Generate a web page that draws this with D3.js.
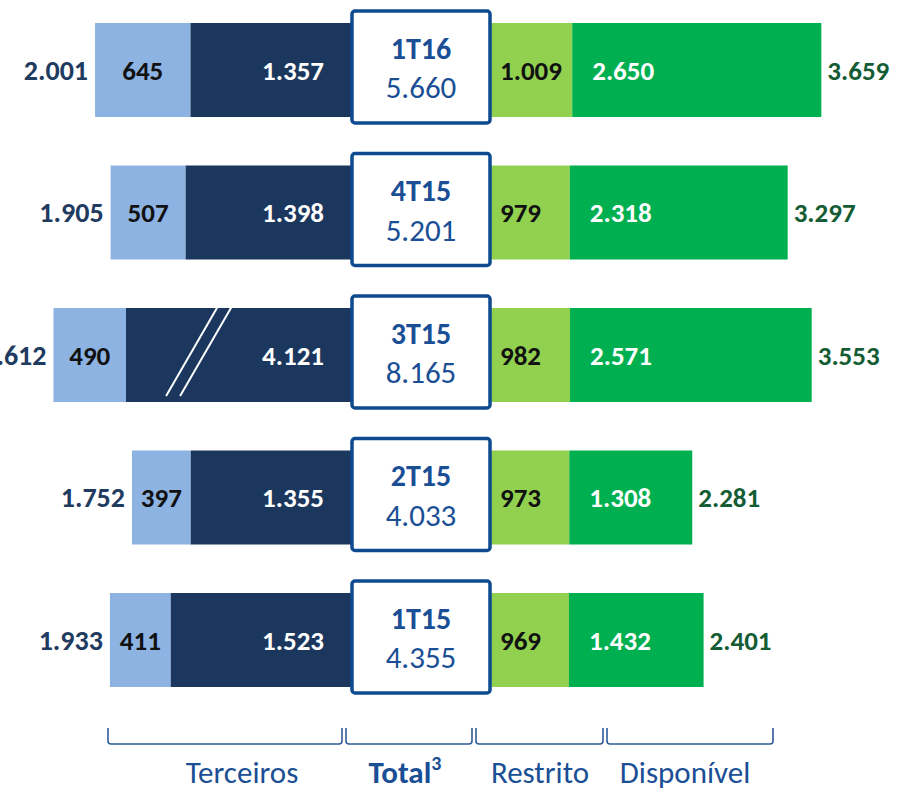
<!DOCTYPE html>
<html><head><meta charset="utf-8">
<script src="https://cdn.jsdelivr.net/npm/d3@7"></script>
<style>body{margin:0;background:#fff}svg{display:block}</style>
</head><body>
<svg id="c" width="897" height="789"></svg>
<script>
// ---- data ----
const quarters   = ["1T16","4T15","3T15","2T15","1T15"];
const totals     = ["5.660","5.201","8.165","4.033","4.355"];
const tercA      = [645, 507, 490, 397, 411];      // light blue
const tercB      = [1357, 1398, 4121, 1355, 1523]; // navy
const tercTotal  = ["2.001","1.905","4.612","1.752","1.933"];
const restrito   = [1009, 979, 982, 973, 969];
const disponivel = [2650, 2318, 2571, 1308, 1432];
const dispTotal  = ["3.659","3.297","3.553","2.281","2.401"];
const brokenRow  = "3T15";
const breakAt    = 1285;
const groupLabels = ["Terceiros","Total","Restrito","Disponível"];

const fmt = v => d3.format(",")(v).replace(/,/g,".");

const svg = d3.select("#c");
const font = "Carlito, Lato, 'Open Sans', sans-serif";

const boxL = 352, boxR = 490;
const y = d3.scalePoint().domain(quarters).range([70, 640]);
const barH = 94, boxH = 112;

// separate scales per series as in the original artwork
const sA = d3.scaleLinear().domain([0, 1000]).range([0, 148]);
const sB = d3.scaleLinear().domain([0, 1000]).range([0, 119]);
const sBbroken = d3.scaleLinear().domain([0, breakAt, 4121]).range([0, sB(breakAt), 226]);
const sR = d3.scaleLinear().domain([0, 1000]).range([0, 81.5]);
const sD = d3.scaleLinear().domain([0, 1000]).range([0, 94]);

const C = {a:"#8DB3E2", b:"#1B375E", r:"#92D050", d:"#00B050",
           box:"#0D4A8F", left:"#1F3B5F", right:"#145C34", txt:"#1A4F95"};

quarters.forEach((q, i) => {
  const cy = y(q);
  const top = cy - barH/2;
  const bScale = q === brokenRow ? sBbroken : sB;
  const bW = bScale(tercB[i]);
  const bX = boxL - bW;
  const aW = sA(tercA[i]);
  const aX = bX - aW;
  const rW = sR(restrito[i]);
  const dW = sD(disponivel[i]);
  const g = svg.append("g");

  g.append("rect").attr("x", aX).attr("y", top).attr("width", aW).attr("height", barH).attr("fill", C.a);
  g.append("rect").attr("x", bX).attr("y", top).attr("width", bW).attr("height", barH).attr("fill", C.b);
  g.append("rect").attr("x", boxR).attr("y", top).attr("width", rW).attr("height", barH).attr("fill", C.r);
  g.append("rect").attr("x", boxR + rW).attr("y", top).attr("width", dW).attr("height", barH).attr("fill", C.d);

  if (q === brokenRow) {
    const bx = boxL - sBbroken(breakAt);
    [-7, 7].forEach(o => {
      g.append("line")
        .attr("x1", bx + o - 26).attr("y1", top + barH - 6)
        .attr("x2", bx + o + 26).attr("y2", top - 2)
        .attr("stroke", "#fff").attr("stroke-width", 2);
    });
  }

  const t = (x, yy, s, anchor, fill, size, weight) =>
    g.append("text").attr("x", x).attr("y", yy).attr("text-anchor", anchor)
     .attr("dominant-baseline", "central").attr("fill", fill)
     .attr("font-family", font).attr("font-size", size).attr("font-weight", weight).text(s);

  t(aX + aW/2, cy, fmt(tercA[i]), "middle", "#111", 27, 700);
  t(boxL - 28, cy, fmt(tercB[i]), "end", "#fff", 27, 700);
  t(boxR + 10, cy, fmt(restrito[i]), "start", "#111", 27, 700);
  t(boxR + rW + 20, cy, fmt(disponivel[i]), "start", "#fff", 27, 700);
  t(aX - 7, cy, tercTotal[i], "end", C.left, 28, 600);
  t(boxR + rW + dW + 6, cy, dispTotal[i], "start", C.right, 27, 700);

  g.append("rect").attr("x", boxL).attr("y", cy - boxH/2 - 3).attr("width", boxR - boxL).attr("height", boxH)
    .attr("rx", 3).attr("fill", "#fff").attr("stroke", C.box).attr("stroke-width", 3.5);
  t((boxL + boxR)/2, cy - 22, q, "middle", C.txt, 30, 700);
  t((boxL + boxR)/2, cy + 17, totals[i], "middle", C.txt, 31, 400);
});

// brackets
const br = [108, 344, 474, 605, 773];
const bTop = 728, bBot = 744;
const bg = svg.append("g").attr("fill", "none").attr("stroke", "#2F5C99").attr("stroke-width", 1.6);
for (let k = 0; k < br.length - 1; k++) {
  const x0 = br[k] + (k ? 2 : 0), x1 = br[k+1] - (k < br.length - 2 ? 2 : 0);
  bg.append("path").attr("d",
    `M${x0},${bTop} L${x0},${bBot-3} Q${x0},${bBot} ${x0+3},${bBot} L${x1-3},${bBot} Q${x1},${bBot} ${x1},${bBot-3} L${x1},${bTop}`);
}
const lx = [242, 405, 540, 685];
groupLabels.forEach((s, k) => {
  const tx = svg.append("text").attr("x", lx[k]).attr("y", 772).attr("text-anchor", "middle")
    .attr("dominant-baseline", "central").attr("fill", C.txt).attr("font-family", font)
    .attr("font-size", 31).attr("font-weight", k === 1 ? 700 : 400).text(s);
  if (k === 1) tx.append("tspan").attr("font-size", 20).attr("dy", -9).text("3");
});
</script>
</body></html>
